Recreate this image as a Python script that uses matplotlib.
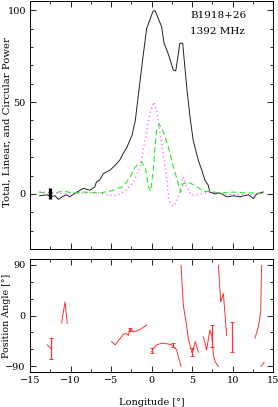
import matplotlib
matplotlib.use("Agg")
import matplotlib.pyplot as plt
import numpy as np
from matplotlib.ticker import MultipleLocator

plt.rcParams['font.family'] = ['DejaVu Serif']
plt.rcParams['font.size'] = 7

# total intensity (black)
lon_I = [-13.8, -12.9, -12.5, -11.9, -11.5, -11.0, -10.5, -10.1, -9.2, -8.4, -7.6, -7.0,
         -6.8, -6.4, -5.95, -5.1, -4.5, -3.9, -3.5, -3.1, -2.4, -2.0, -1.6, -1.1, -0.6,
         0.2, 0.45, 1.25, 1.55, 2.05, 2.7, 3.0, 3.5, 3.85, 4.35, 4.75, 5.15, 5.8, 6.2,
         6.6, 7.0, 7.2, 7.85, 8.45, 9.3, 10.1, 10.9, 11.95, 12.6, 13.0, 13.8]
I_vals = [-1, -0.5, -1.5, -1, -3, -1.5, -0.5, -1.6, 1, 3, 2, 3.8,
          6.5, 7.5, 11, 13, 15.5, 18.5, 22, 24.7, 32, 40, 54.6, 72.8, 90,
          99.6, 99.6, 91, 82, 76.4, 67.3, 67, 82, 82, 58, 42, 29, 18, 13,
          7.5, 4.7, 1, 0, 0.5, -1.6, -1, -1.6, -0.5, -2.5, 0, 1]

# linear polarization (green dashed)
lon_L = [-13.9, -12.5, -10.9, -9.65, -8.4, -6.4, -5.1, -3.5, -2.65, -2.0, -1.2, -0.7,
         -0.4, -0.1, 0.22, 0.43, 0.64, 0.97, 1.46, 2.07, 2.7, 3.3, 3.6, 3.9, 4.75,
         5.6, 6.4, 7.6, 8.8, 10.1, 11.7, 13.0, 13.8]
L_vals = [1, 0, 1.5, 0.5, 1, 0.5, 1.5, 4, 9, 14.7, 17.4, 13,
          4, 1.5, 13, 25.6, 34.7, 38, 33.8, 25.6, 14.7, 5.6, 1, 5.6, 6,
          3.8, 1.5, 1, 0.5, 1, 0.5, 0.5, 0]

# circular polarization (magenta dotted)
lon_V = [-13.8, -12.0, -10.0, -8.0, -6.5, -5.1, -4.3, -3.1, -2.2, -1.4, -0.8, -0.2,
         0.3, 0.64, 1.05, 1.46, 1.9, 2.16, 2.7, 3.1, 3.5, 3.9, 4.35, 4.96, 6.0,
         7.6, 8.6, 9.7, 10.9, 12.6, 13.8]
V_vals = [1, 0.5, 0, 0.5, 0.5, -0.7, -1, 2, 6.5, 14.7, 29, 44,
          50, 45.6, 33, 22, 7.5, -3.4, -6.7, -4.4, 2, 9.3, 3.8, -0.7, 0,
          1, 0, -0.5, -0.3, -0.7, 1]

# position angle (red), nan separates segments
lon_PA = [-12.86, -12.45, np.nan,
          -11.09, -10.68, -10.4, np.nan,
          -4.92, -4.5, -3.89, -3.48, -3.07, -2.86, -2.65, -2.24, -1.62, -1.21, -0.6, np.nan,
          0.02, 0.23, 0.64, 1.26, 1.88, 2.49, 2.7, 3.1, 3.3, 3.64, np.nan,
          3.64, 3.93, 4.26, 4.54, 4.84, 5.04, 5.4, 5.79, np.nan,
          6.4, 6.8, 7.2, 7.44, 7.65, 7.86, 8.26, np.nan,
          8.26, 8.54, 8.87, 9.28, np.nan,
          12.78, 13.19, 13.48, 13.6, np.nan,
          13.52, 13.9]
PA_vals = [-52, -58, np.nan,
           -13, 24, -14, np.nan,
           -46, -52, -41, -33, -32, -35, -23, -29, -26, -23, -17, np.nan,
           -64, -58, -52, -49, -50, -52, -55, -61, -72, -90, np.nan,
           89, 18, -11, -40, -58, -67, -46, -65, np.nan,
           -38, -61, -26, -35, -70, -82, -90, np.nan,
           89, 24, 39, -35, np.nan,
           -40, -20, 6, 89, np.nan,
           -90, -83]

# position angle error bars
err_lon = [-12.45, -2.65, 0.02, 2.6, 5.04, 7.44, 9.9]
err_pa = [-58.5, -25, -62, -52, -65, -36, -38]
err_size = [18.5, 3, 5, 3, 7.5, 19, 26]

fig = plt.figure(figsize=(2.78, 4.07), dpi=100)
ax1 = fig.add_axes([30 / 278, 1 - 249 / 407, 243 / 278, 248 / 407])
ax2 = fig.add_axes([30 / 278, 1 - 372 / 407, 243 / 278, 113 / 407])

ax1.plot(lon_I, I_vals, color="#222222", lw=0.7)
ax1.plot(lon_L, L_vals, color="#22ee22", lw=0.8, dashes=(5, 3))
ax1.plot(lon_V, V_vals, color="#ff55ff", lw=1.0, dashes=(0.8, 2.2))
ax1.plot([-12.5, -12.5], [-3, 3], color="black", lw=2.3, solid_capstyle="butt")
ax1.text(0.66, 0.93, "B1918+26", transform=ax1.transAxes, fontsize=7.5)
ax1.text(0.66, 0.865, "1392 MHz", transform=ax1.transAxes, fontsize=7.5)
ax1.set_xlim(-15, 15)
ax1.set_ylim(-30, 105)
ax1.set_yticks([0, 50, 100])
ax1.yaxis.set_minor_locator(MultipleLocator(10))
ax1.xaxis.set_major_locator(MultipleLocator(5))
ax1.xaxis.set_minor_locator(MultipleLocator(2.5))
ax1.tick_params(labelbottom=False)
ax1.set_ylabel("Total, Linear, and Circular Power", fontsize=7.3)
ax1.yaxis.set_label_coords(-18 / 243, 0.51)

ax2.plot(lon_PA, PA_vals, color="#ff3030", lw=0.7)
ax2.errorbar(err_lon, err_pa, yerr=err_size, fmt="none", ecolor="#ff3030",
             elinewidth=0.9, capsize=1.3, capthick=0.7)
ax2.set_xlim(-15, 15)
ax2.set_ylim(-100, 100)
ax2.set_yticks([-90, 0, 90])
ax2.yaxis.set_minor_locator(MultipleLocator(30))
ax2.xaxis.set_major_locator(MultipleLocator(5))
ax2.xaxis.set_minor_locator(MultipleLocator(2.5))
ax2.set_xlabel("Longitude [°]", labelpad=9)
ax2.set_ylabel("Position Angle [°]", fontsize=6.8)
ax2.yaxis.set_label_coords(-19 / 243, 0.5)

for ax in (ax1, ax2):
    ax.tick_params(which="both", direction="in", top=True, right=True, width=0.6)
    ax.tick_params(which="major", length=4, pad=3)
    ax.tick_params(which="minor", length=2.5)
    for s in ax.spines.values():
        s.set_linewidth(0.7)

fig.savefig("out.png", dpi=100)
